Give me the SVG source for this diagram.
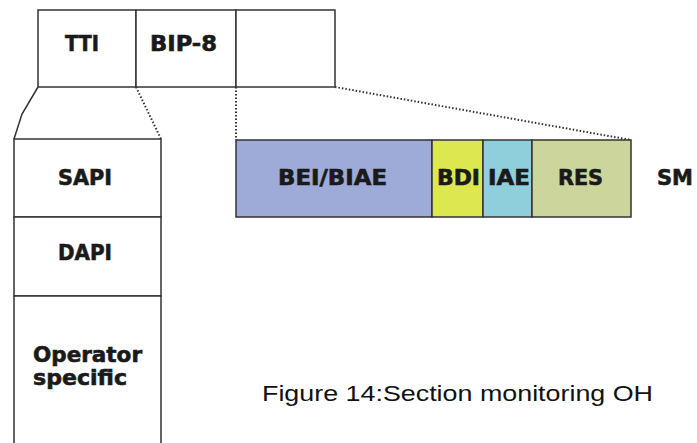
<svg xmlns="http://www.w3.org/2000/svg" width="697" height="443" viewBox="0 0 697 443">
<style>
.box{fill:#fff;stroke:#333;stroke-width:1.5}
.lbl{font-family:"DejaVu Sans",Verdana,sans-serif;font-weight:bold;font-size:21px;fill:#1a1a1a;stroke:#1a1a1a;stroke-width:0.6;text-anchor:middle}
.dot{fill:none;stroke:#333;stroke-width:2;stroke-dasharray:1.5 2}
.sol{fill:none;stroke:#333;stroke-width:1.5}
.cap{font-family:"Liberation Sans",Arial,sans-serif;font-size:22px;fill:#111}
</style>
<rect width="697" height="443" fill="#fff"/>
<g id="connectors">
<polyline class="sol" points="38,87 22,114 14,139"/>
<line class="dot" x1="136" y1="87" x2="161" y2="139"/>
<line class="dot" x1="236" y1="87" x2="236" y2="140"/>
<line class="dot" x1="335" y1="87" x2="631" y2="140"/>
</g>
<g id="tti">
<rect class="box" x="38" y="10" width="98" height="77"/>
<text class="lbl" x="82" y="51" textLength="34" lengthAdjust="spacingAndGlyphs">TTI</text>
</g>
<g id="bip8">
<rect class="box" x="136" y="10" width="100" height="77"/>
<text class="lbl" x="183.5" y="51" textLength="67" lengthAdjust="spacingAndGlyphs">BIP-8</text>
</g>
<g id="sm-byte">
<rect class="box" x="236" y="10" width="99" height="77"/>
</g>
<g id="sapi">
<rect class="box" x="14" y="139" width="147" height="78"/>
<text class="lbl" x="85" y="185" textLength="54" lengthAdjust="spacingAndGlyphs">SAPI</text>
</g>
<g id="dapi">
<rect class="box" x="14" y="217" width="147" height="79"/>
<text class="lbl" x="85" y="260" textLength="54" lengthAdjust="spacingAndGlyphs">DAPI</text>
</g>
<g id="operator">
<path class="box" d="M14,450 L14,296 L161,296 L161,450"/>
<text class="lbl" x="87.5" y="362" textLength="109" lengthAdjust="spacingAndGlyphs">Operator</text>
<text class="lbl" x="80" y="385" textLength="94" lengthAdjust="spacingAndGlyphs">specific</text>
</g>
<g id="bei">
<rect x="236" y="140" width="196" height="77" fill="#9eabd9" stroke="#333" stroke-width="1.5"/>
<text class="lbl" x="332.5" y="185" textLength="109" lengthAdjust="spacingAndGlyphs">BEI/BIAE</text>
</g>
<g id="bdi">
<rect x="432" y="140" width="51" height="77" fill="#dde74f" stroke="#333" stroke-width="1.5"/>
<text class="lbl" x="458.5" y="185" textLength="43" lengthAdjust="spacingAndGlyphs">BDI</text>
</g>
<g id="iae">
<rect x="483" y="140" width="49" height="77" fill="#8fcfdc" stroke="#333" stroke-width="1.5"/>
<text class="lbl" x="509" y="185" textLength="42" lengthAdjust="spacingAndGlyphs">IAE</text>
</g>
<g id="res">
<rect x="532" y="140" width="99" height="77" fill="#ccd69c" stroke="#333" stroke-width="1.5"/>
<text class="lbl" x="580.5" y="185" textLength="45" lengthAdjust="spacingAndGlyphs">RES</text>
</g>
<g id="sm">
<text class="lbl" x="675" y="185" textLength="36" lengthAdjust="spacingAndGlyphs">SM</text>
</g>
<text class="cap" x="262" y="401" textLength="391" lengthAdjust="spacingAndGlyphs">Figure 14:Section monitoring OH</text>
</svg>
